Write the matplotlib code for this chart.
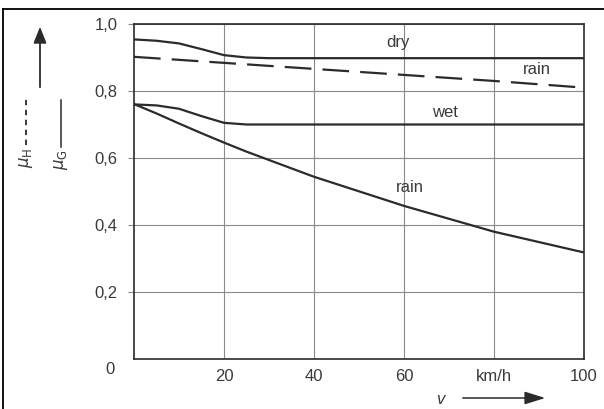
import matplotlib

matplotlib.use("Agg")
import matplotlib.pyplot as plt
from matplotlib.lines import Line2D
from matplotlib.patches import FancyArrowPatch

# speed in km/h and friction coefficients
speed = [0, 5, 10, 15, 20, 25, 30, 40, 60, 80, 100]
mu_g_dry = [0.954, 0.950, 0.942, 0.925, 0.907, 0.900, 0.898, 0.898, 0.898, 0.898, 0.898]
mu_g_wet = [0.760, 0.757, 0.747, 0.725, 0.705, 0.700, 0.700, 0.700, 0.700, 0.700, 0.700]
mu_g_rain = [0.761, 0.733, 0.703, 0.674, 0.646, 0.619, 0.594, 0.544, 0.457, 0.380, 0.318]

speed_h = [0, 20, 40, 60, 80, 100]
mu_h_rain = [0.902, 0.884, 0.866, 0.848, 0.830, 0.810]

y_ticks = [0.2, 0.4, 0.6, 0.8, 1.0]
y_labels = ["0,2", "0,4", "0,6", "0,8", "1,0"]
x_ticks = [20, 40, 60, 80, 100]
x_labels = ["20", "40", "60", "km/h", "100"]

W, H = 604, 409
INK = "#2b2b2b"
TXT = "#3a3a3a"
FS = 12
plt.rcParams["font.family"] = ["Liberation Sans", "DejaVu Sans"]


def px(x, y):
    return x / W, 1 - y / H


fig = plt.figure(figsize=(W / 100, H / 100), dpi=100)
ax = fig.add_axes([134 / W, 1 - 359 / H, (584 - 134) / W, (359 - 24) / H])

ax.plot(speed, mu_g_dry, color=INK, lw=1.6)
ax.plot(speed, mu_g_wet, color=INK, lw=1.6)
ax.plot(speed, mu_g_rain, color=INK, lw=1.6)
ax.plot(speed_h, mu_h_rain, color=INK, lw=1.6, dashes=(12, 5))

ax.set_xlim(0, 100)
ax.set_ylim(0, 1.0)
ax.set_xticks(x_ticks)
ax.set_xticklabels(x_labels)
ax.set_yticks(y_ticks)
ax.set_yticklabels(y_labels)
ax.grid(True, color="#8a8a8a", lw=0.8)
ax.tick_params(axis="x", length=0, pad=7, labelsize=FS, labelcolor=TXT)
ax.tick_params(axis="y", length=4, width=0.8, color="#8a8a8a", pad=8, labelsize=FS, labelcolor=TXT)
for s in ax.spines.values():
    s.set_color(INK)
    s.set_linewidth(1.2)

ax.text(58.7, 0.946, "dry", ha="center", va="center", fontsize=FS, color=TXT)
ax.text(89.5, 0.863, "rain", ha="center", va="center", fontsize=FS, color=TXT)
ax.text(69, 0.737, "wet", ha="center", va="center", fontsize=FS, color=TXT)
ax.text(61.3, 0.513, "rain", ha="center", va="center", fontsize=FS, color=TXT)

# origin label
fig.text(*px(110, 369), "0", ha="center", va="center", fontsize=FS, color=TXT)

# y axis label: arrow, mu_H dashed, mu_G solid
fig.add_artist(FancyArrowPatch(px(40, 90), px(40, 24), transform=fig.transFigure,
                               arrowstyle="-|>,head_length=0.7,head_width=0.28",
                               mutation_scale=14, color=INK, lw=1.3))
fig.text(*px(26, 158), r"$\mu_\mathrm{H}$", rotation=90, ha="center", va="center",
         fontsize=FS, color=TXT)
fig.add_artist(Line2D([26 / W, 26 / W], [1 - 145 / H, 1 - 97 / H], transform=fig.transFigure,
                      color=INK, lw=1.3, dashes=(3, 2.5)))
fig.text(*px(61, 160), r"$\mu_\mathrm{G}$", rotation=90, ha="center", va="center",
         fontsize=FS, color=TXT)
fig.add_artist(Line2D([61 / W, 61 / W], [1 - 147 / H, 1 - 100 / H], transform=fig.transFigure,
                      color=INK, lw=1.1))

# x axis label with arrow
fig.text(*px(440, 400), "v", style="italic", ha="center", va="center", fontsize=FS, color=TXT)
fig.add_artist(FancyArrowPatch(px(460, 398), px(548, 398), transform=fig.transFigure,
                               arrowstyle="-|>,head_length=0.9,head_width=0.28",
                               mutation_scale=14, color=INK, lw=1.1))

# border lines of the scanned figure
fig.add_artist(Line2D([3 / W, 3 / W], [0, 1 - 9 / H], transform=fig.transFigure, color="black", lw=1.3))
fig.add_artist(Line2D([3 / W, 1], [1 - 9 / H, 1 - 9 / H], transform=fig.transFigure, color="black", lw=1.3))

fig.savefig("out.png", dpi=100)
